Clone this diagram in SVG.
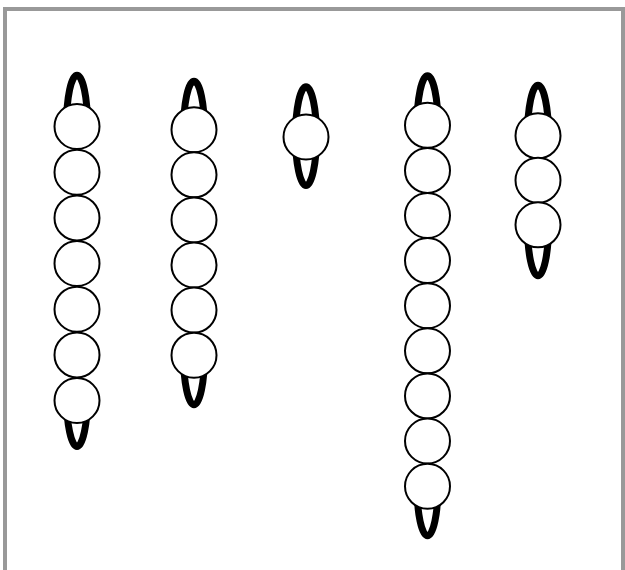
<svg xmlns="http://www.w3.org/2000/svg" width="625" height="570" viewBox="0 0 625 570">
<style>
.frame{fill:none;stroke:#999999;stroke-width:4}
.ring{fill:none;stroke:#000;stroke-width:7}
.bead{fill:#fff;stroke:#000;stroke-width:2}
</style>
<rect width="625" height="570" fill="#fff"/>
<rect class="frame" x="5" y="9" width="618" height="600"/>
<g id="chain1">
<path class="ring" d="M66.5,125.2 A10.5,50 0 0 1 87.5,125.2 M87.5,396.5 A10.5,50 0 0 1 66.5,396.5"/>
<circle class="bead" cx="77" cy="126.5" r="22.5"/>
<circle class="bead" cx="77" cy="172.2" r="22.5"/>
<circle class="bead" cx="77" cy="217.9" r="22.5"/>
<circle class="bead" cx="77" cy="263.5" r="22.5"/>
<circle class="bead" cx="77" cy="309.2" r="22.5"/>
<circle class="bead" cx="77" cy="354.9" r="22.5"/>
<circle class="bead" cx="77" cy="400.5" r="22.5"/>
</g>
<g id="chain2">
<path class="ring" d="M183.5,131.2 A10.5,50 0 0 1 204.5,131.2 M204.5,354.8 A10.5,50 0 0 1 183.5,354.8"/>
<circle class="bead" cx="194" cy="129.7" r="22.5"/>
<circle class="bead" cx="194" cy="174.8" r="22.5"/>
<circle class="bead" cx="194" cy="219.9" r="22.5"/>
<circle class="bead" cx="194" cy="265" r="22.5"/>
<circle class="bead" cx="194" cy="310.1" r="22.5"/>
<circle class="bead" cx="194" cy="355.2" r="22.5"/>
</g>
<g id="chain3">
<ellipse class="ring" cx="306" cy="136.2" rx="10.5" ry="49.4"/>
<circle class="bead" cx="306" cy="137" r="22.5"/>
</g>
<g id="chain4">
<path class="ring" d="M417,125.8 A10.5,50 0 0 1 438,125.8 M438,485.8 A10.5,50 0 0 1 417,485.8"/>
<circle class="bead" cx="427.5" cy="125.3" r="22.5"/>
<circle class="bead" cx="427.5" cy="170.4" r="22.5"/>
<circle class="bead" cx="427.5" cy="215.5" r="22.5"/>
<circle class="bead" cx="427.5" cy="260.6" r="22.5"/>
<circle class="bead" cx="427.5" cy="305.7" r="22.5"/>
<circle class="bead" cx="427.5" cy="350.8" r="22.5"/>
<circle class="bead" cx="427.5" cy="395.9" r="22.5"/>
<circle class="bead" cx="427.5" cy="441" r="22.5"/>
<circle class="bead" cx="427.5" cy="486.3" r="22.5"/>
</g>
<g id="chain5">
<path class="ring" d="M527.5,135.2 A10.5,50 0 0 1 548.5,135.2 M548.5,225.8 A10.5,50 0 0 1 527.5,225.8"/>
<circle class="bead" cx="538" cy="135.8" r="22.5"/>
<circle class="bead" cx="538" cy="180.3" r="22.5"/>
<circle class="bead" cx="538" cy="224.8" r="22.5"/>
</g>
</svg>
